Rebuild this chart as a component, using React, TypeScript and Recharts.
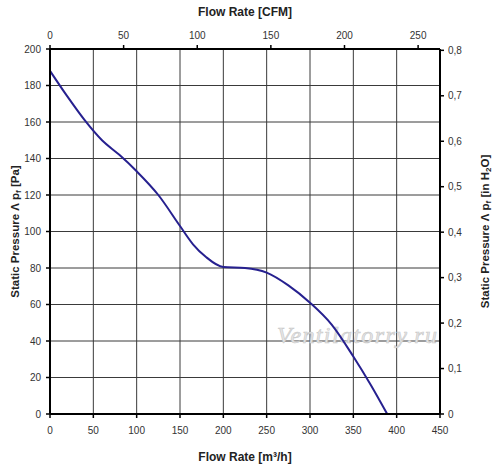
import { ComposedChart, Line, XAxis, YAxis, CartesianGrid, Label, Customized } from 'recharts';

// fan curve: flow in m³/h, static pressure in Pa
const flowM3h = [0, 20, 40, 60, 80, 100, 125, 150, 165, 180, 200, 225, 250, 275, 300, 325, 350, 370, 389];
const pressurePa = [188, 174, 161, 150, 142, 133, 120, 103, 93, 86, 80.5, 80, 77.5, 70.5, 61, 49, 31.5, 16, 0];

const m3hTicks = [0, 50, 100, 150, 200, 250, 300, 350, 400, 450];
const cfmTicks = [0, 50, 100, 150, 200, 250];
const paTicks = [0, 20, 40, 60, 80, 100, 120, 140, 160, 180, 200];
const inH2OTicks = [0, 0.1, 0.2, 0.3, 0.4, 0.5, 0.6, 0.7, 0.8];

const M3H_PER_CFM = 1.699;
const PA_PER_INH2O = 249.09;

const data = flowM3h.map((q, i) => ({ q, p: pressurePa[i] }));

const font = '"Liberation Sans", Arial, sans-serif';
const tickStyle = { fontSize: 10, fill: '#333', fontFamily: font };
const axisLine = { stroke: '#000', strokeWidth: 2 };
const tickLine = { stroke: '#000', strokeWidth: 1.5 };
const titleStyle = { fontSize: 12, fontWeight: 'bold' as const, fill: '#222', fontFamily: font };
const sideTitleStyle = { ...titleStyle, fontSize: 11.5 };

const Watermark = () => (
  <text
    x={277}
    y={343}
    textLength={160}
    fontFamily='"Liberation Serif", "Times New Roman", serif'
    fontStyle="italic"
    fontSize={24}
    fill="#e6e6e6"
    stroke="#c8c8c8"
    strokeWidth={0.6}
  >
    Ventilatorry.ru
  </text>
);

const LeftTitle = ({ viewBox }: any) => {
  const cy = viewBox.y + viewBox.height / 2;
  return (
    <text x={15} y={cy} transform={`rotate(-90 15 ${cy})`} textAnchor="middle" dominantBaseline="central" style={sideTitleStyle}>
      Static Pressure Λ p<tspan fontSize={8} dy={3}>f</tspan>
      <tspan dy={-3}> [Pa]</tspan>
    </text>
  );
};

const RightTitle = ({ viewBox }: any) => {
  const cy = viewBox.y + viewBox.height / 2;
  return (
    <text x={485} y={cy} transform={`rotate(-90 485 ${cy})`} textAnchor="middle" dominantBaseline="central" style={sideTitleStyle}>
      Static Pressure Λ p<tspan fontSize={8} dy={3}>f</tspan>
      <tspan dy={-3}> [in H</tspan>
      <tspan fontSize={8} dy={3}>2</tspan>
      <tspan dy={-3}>O]</tspan>
    </text>
  );
};

export default function App() {
  return (
    <div style={{ position: 'absolute', left: 0, top: 0, background: '#fff' }}>
      <ComposedChart width={500} height={473} data={data} margin={{ top: 0, right: 0, bottom: 0, left: 0 }}>
        <CartesianGrid xAxisId="m3h" yAxisId="pa" stroke="#3a3a3a" strokeWidth={1} />
        <XAxis
          xAxisId="m3h"
          dataKey="q"
          type="number"
          domain={[0, 450]}
          ticks={m3hTicks}
          interval={0}
          height={59}
          tickSize={4}
          tickMargin={9}
          tick={tickStyle}
          axisLine={axisLine}
          tickLine={tickLine}
        >
          <Label value="Flow Rate [m³/h]" position="insideBottom" offset={12} style={titleStyle} />
        </XAxis>
        {/* CFM scale on top: same flow axis, ticks placed at the m³/h equivalent of each CFM value */}
        <XAxis
          xAxisId="cfm"
          dataKey="q"
          orientation="top"
          type="number"
          domain={[0, 450]}
          ticks={cfmTicks.map((c) => c * M3H_PER_CFM)}
          tickFormatter={(v: number) => String(Math.round(v / M3H_PER_CFM))}
          interval={0}
          height={49}
          tickSize={4}
          tickMargin={6}
          tick={tickStyle}
          axisLine={axisLine}
          tickLine={tickLine}
        >
          <Label value="Flow Rate [CFM]" position="insideTop" offset={7} style={titleStyle} />
        </XAxis>
        <YAxis
          yAxisId="pa"
          type="number"
          domain={[0, 200]}
          ticks={paTicks}
          interval={0}
          width={50}
          tickSize={4}
          tickMargin={5}
          tick={tickStyle}
          axisLine={axisLine}
          tickLine={tickLine}
        >
          <Label content={LeftTitle} />
        </YAxis>
        <YAxis
          yAxisId="inh2o"
          orientation="right"
          type="number"
          domain={[0, 200 / PA_PER_INH2O]}
          allowDataOverflow
          ticks={inH2OTicks}
          interval={0}
          width={60}
          tickSize={4}
          tickMargin={4}
          tick={tickStyle}
          tickFormatter={(v: number) => (v === 0 ? '0' : v.toFixed(1).replace('.', ','))}
          axisLine={axisLine}
          tickLine={tickLine}
        >
          <Label content={RightTitle} />
        </YAxis>
        <Customized component={Watermark} />
        <Line
          xAxisId="m3h"
          yAxisId="pa"
          dataKey="p"
          type="monotone"
          stroke="#26208f"
          strokeWidth={2}
          dot={false}
          isAnimationActive={false}
        />
      </ComposedChart>
    </div>
  );
}
